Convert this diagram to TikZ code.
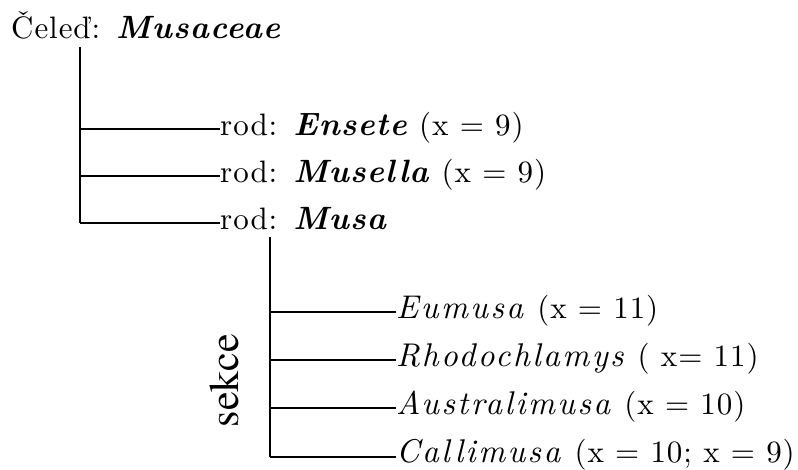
\documentclass[tikz,border=0pt]{standalone}
\usepackage{fontspec}
\setmainfont{lmroman10-regular.otf}[
  ItalicFont=lmroman10-italic.otf,
  BoldFont=lmroman10-bold.otf,
  BoldItalicFont=lmroman10-bolditalic.otf,
  LetterSpace=3,
  ItalicFeatures={Scale=1.06,LetterSpace=7.5},
  BoldItalicFeatures={Scale=1.04,LetterSpace=3.5}]
\newfontfamily\sekcefont{texgyretermes-regular.otf}
\newcommand{\taxon}[1]{\textbf{\textit{#1}}}
\begin{document}
\begin{tikzpicture}[x=1pt,y=-1pt,
  tree/.style={draw=black,line width=2pt},
  lbl/.style={anchor=base west,inner sep=0pt,font=\fontsize{31}{37}\selectfont},
  side/.style={rotate=90,anchor=base,inner sep=0pt,font=\sekcefont\fontsize{42}{48}\selectfont}]
  \fill[white] (0,0) rectangle (798,470);
  \useasboundingbox (0,0) rectangle (798,470);

  % family and its genera
  \node[lbl] (fam) at (11,39) {Čeleď: \taxon{Musaceae}};
  \coordinate (f0) at (80,47);
  \coordinate (f1) at (80,129);
  \coordinate (f2) at (80,176);
  \coordinate (f3) at (80,223);
  \node[lbl] (ens) at (220,135.5) {rod: \taxon{Ensete} (x = 9)};
  \node[lbl] (mus) at (220,182.5) {rod: \taxon{Musella} (x = 9)};
  \node[lbl] (musa) at (220,229.5) {rod: \taxon{Musa}};
  \draw[tree] (f0) -- (f3);
  \draw[tree] (f1) -- (f1 -| ens.west);
  \draw[tree] (f2) -- (f2 -| mus.west);
  \draw[tree] (f3) -- (f3 -| musa.west);

  % sections of the genus Musa
  \coordinate (m0) at (270,237);
  \coordinate (m1) at (270,312);
  \coordinate (m2) at (270,360);
  \coordinate (m3) at (270,408);
  \coordinate (m4) at (270,457);
  \node[lbl] (eum) at (396,318.5) {\textit{Eumusa} (x = 11)};
  \node[lbl] (rho) at (396,366.5) {\textit{Rhodochlamys} ( x= 11)};
  \node[lbl] (aus) at (396,414.5) {\textit{Australimusa} (x = 10)};
  \node[lbl] (cal) at (396,462) {\textit{Callimusa} (x = 10; x = 9)};
  \draw[tree] (m0) -- (m4);
  \draw[tree] (m1) -- (m1 -| eum.west);
  \draw[tree] (m2) -- (m2 -| rho.west);
  \draw[tree] (m3) -- (m3 -| aus.west);
  \draw[tree] (m4) -- (m4 -| cal.west);
  \node[side] (sek) at (238,380.5) {sekce};
\end{tikzpicture}
\end{document}
